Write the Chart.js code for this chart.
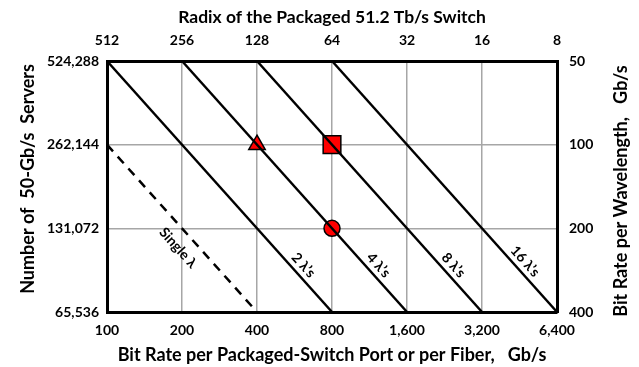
<!DOCTYPE html>
<html>
<head>
<meta charset="utf-8">
<script src="https://cdn.jsdelivr.net/npm/chart.js@4.4.0/dist/chart.umd.min.js"></script>
<style>
  html, body { margin: 0; padding: 0; background: #ffffff; }
  #wrap { width: 639px; height: 367px; }
</style>
</head>
<body>
<div id="wrap"><canvas id="c"></canvas></div>
<script>
// Axis tick values
const portRates = [100, 200, 400, 800, 1600, 3200, 6400];      // Gb/s per port / fiber
const radixValues = [512, 256, 128, 64, 32, 16, 8];             // radix of 51.2 Tb/s switch
const serverCounts = [65536, 131072, 262144, 524288];           // number of 50-Gb/s servers
const wavelengthRates = [50, 100, 200, 400];                    // Gb/s per wavelength

// Constant-wavelength-count lines: [portRate, servers]
const singleLambda = [[100, 262144], [400, 65536]];
const twoLambdas = [[100, 524288], [800, 65536]];
const fourLambdas = [[200, 524288], [1600, 65536]];
const eightLambdas = [[400, 524288], [3200, 65536]];
const sixteenLambdas = [[800, 524288], [6400, 65536]];
const lineNames = ['Single \u03bb', '2 \u03bb\u2019s', '4 \u03bb\u2019s', '8 \u03bb\u2019s', '16 \u03bb\u2019s'];

// Highlighted design points: [portRate, servers]
const trianglePoint = [400, 262144];
const squarePoint = [800, 262144];
const circlePoint = [800, 131072];

const leftTitle = 'Number of  50-Gb/s  Servers';
const rightTitle = 'Bit Rate per Wavelength,   Gb/s';

const FONT = 'Lato';
const toXY = arr => arr.map(p => ({ x: p[0], y: p[1] }));
const fmt = v => Number(v).toLocaleString('en-US');
const fixTicks = vals => scale => { scale.ticks = vals.map(v => ({ value: v })); };

const lineStyle = { type: 'line', borderColor: '#000', borderWidth: 2.5, pointRadius: 0, fill: false, clip: false, tension: 0 };

const datasets = [
  Object.assign({ data: toXY(singleLambda), borderDash: [9, 7] }, lineStyle),
  Object.assign({ data: toXY(twoLambdas) }, lineStyle),
  Object.assign({ data: toXY(fourLambdas) }, lineStyle),
  Object.assign({ data: toXY(eightLambdas) }, lineStyle),
  Object.assign({ data: toXY(sixteenLambdas) }, lineStyle),
  { type: 'scatter', data: toXY([trianglePoint]), pointStyle: 'triangle', pointRadius: 9.5, backgroundColor: '#ff0000', borderColor: '#000', borderWidth: 1.5, clip: false },
  { type: 'scatter', data: toXY([squarePoint]), pointStyle: 'rect', pointRadius: 12.5, backgroundColor: '#ff0000', borderColor: '#000', borderWidth: 1.5, clip: false },
  { type: 'scatter', data: toXY([circlePoint]), pointStyle: 'circle', pointRadius: 8, backgroundColor: '#ff0000', borderColor: '#000', borderWidth: 1.5, clip: false }
];

// Rotated names written alongside each line
const lineLabelPlugin = {
  id: 'lineLabels',
  afterDatasetsDraw(chart) {
    const { ctx } = chart;
    const xs = chart.scales.x, ys = chart.scales.y;
    const placement = [
      { t: 0.553, off: -16 },
      { t: 0.84, off: 10 },
      { t: 0.84, off: 10 },
      { t: 0.84, off: 10 },
      { t: 0.825, off: 10 }
    ];
    placement.forEach((p, i) => {
      const d = chart.data.datasets[i].data;
      const x0 = xs.getPixelForValue(d[0].x), y0 = ys.getPixelForValue(d[0].y);
      const x1 = xs.getPixelForValue(d[1].x), y1 = ys.getPixelForValue(d[1].y);
      const ang = Math.atan2(y1 - y0, x1 - x0);
      const nx = Math.sin(ang), ny = -Math.cos(ang);
      const cx = x0 + (x1 - x0) * p.t + nx * p.off;
      const cy = y0 + (y1 - y0) * p.t + ny * p.off;
      ctx.save();
      ctx.translate(cx, cy);
      ctx.rotate(ang);
      ctx.font = 'bold 14px ' + FONT;
      ctx.fillStyle = '#000';
      ctx.textAlign = 'center';
      ctx.textBaseline = 'middle';
      ctx.fillText(lineNames[i], 0, 0);
      ctx.restore();
    });
  }
};

// Vertical axis titles, both reading bottom-to-top
const sideTitlePlugin = {
  id: 'sideTitles',
  afterDraw(chart) {
    const { ctx } = chart;
    const draw = (text, x, y) => {
      ctx.save();
      ctx.translate(x, y);
      ctx.rotate(-Math.PI / 2);
      ctx.font = 'bold 18px ' + FONT;
      ctx.fillStyle = '#000';
      ctx.textAlign = 'center';
      ctx.textBaseline = 'middle';
      ctx.fillText(text, 0, 0);
      ctx.restore();
    };
    draw(leftTitle, 28, 179);
    draw(rightTitle, 621, 191);
  }
};

const tickFont = { family: FONT, size: 14, weight: 'bold' };
const gridStyle = { color: 'rgb(166,166,166)', lineWidth: 1.5, drawTicks: false };
const frame = { display: true, color: '#000', width: 3 };

new Chart(document.getElementById('c'), {
  data: { datasets },
  options: {
    responsive: true,
    maintainAspectRatio: false,
    animation: false,
    layout: { padding: 0 },
    plugins: { legend: { display: false }, tooltip: { enabled: false } },
    scales: {
      x: {
        type: 'logarithmic', position: 'bottom', min: 100, max: 6400,
        afterBuildTicks: fixTicks(portRates),
        afterFit: s => { s.height = 55; },
        grid: gridStyle, border: frame,
        ticks: { autoSkip: false, maxRotation: 0, color: '#000', font: tickFont, padding: 10.5, callback: v => fmt(v) },
        title: { display: true, text: 'Bit Rate per Packaged-Switch Port or per Fiber,   Gb/s', color: '#000', font: { family: FONT, size: 18, weight: 'bold' }, padding: { top: 0, bottom: 1 } }
      },
      x2: {
        type: 'logarithmic', position: 'top', min: 8, max: 512, reverse: true,
        afterBuildTicks: fixTicks(radixValues),
        afterFit: s => { s.height = 61; },
        grid: { display: false, drawTicks: false }, border: frame,
        ticks: { autoSkip: false, maxRotation: 0, color: '#000', font: tickFont, padding: 12.5, callback: v => fmt(v) },
        title: { display: true, text: 'Radix of the Packaged 51.2 Tb/s Switch', color: '#000', font: { family: FONT, size: 17.5, weight: 'bold' }, padding: { top: 7, bottom: 0 } }
      },
      y: {
        type: 'logarithmic', position: 'left', min: 65536, max: 524288,
        afterBuildTicks: fixTicks(serverCounts),
        afterFit: s => { s.width = 107; },
        grid: gridStyle, border: frame,
        ticks: { autoSkip: false, color: '#000', font: tickFont, padding: 8, callback: v => fmt(v) },
        title: { display: false }
      },
      y2: {
        type: 'logarithmic', position: 'right', min: 50, max: 400, reverse: true,
        afterBuildTicks: fixTicks(wavelengthRates),
        afterFit: s => { s.width = 82; },
        grid: { display: false, drawTicks: false }, border: frame,
        ticks: { autoSkip: false, color: '#000', font: tickFont, padding: 12, callback: v => fmt(v) },
        title: { display: false }
      }
    }
  },
  plugins: [lineLabelPlugin, sideTitlePlugin]
});
</script>
</body>
</html>
